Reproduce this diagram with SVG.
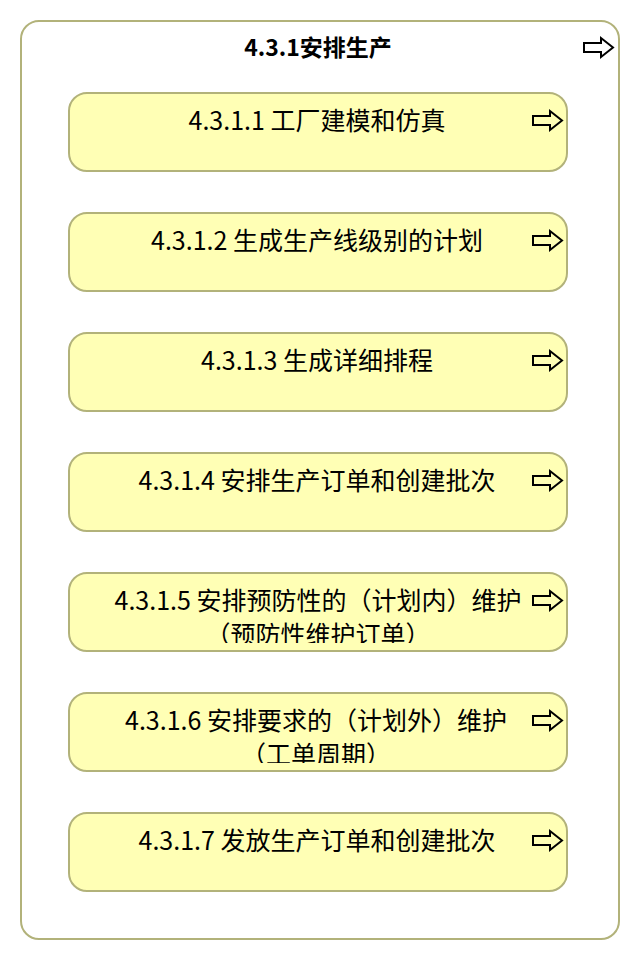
<svg xmlns="http://www.w3.org/2000/svg" width="640" height="960" viewBox="0 0 640 960">
<style>
.outer{fill:#ffffff;stroke:#b2b27a;stroke-width:2}
.node{fill:#ffffb5;stroke:#b2b27a;stroke-width:2}
.lbl{font-family:"Noto Sans CJK SC","Noto Sans",sans-serif;font-size:25px;fill:#000;text-anchor:middle}
.title{font-family:"Noto Sans CJK SC","Noto Sans",sans-serif;font-size:23px;font-weight:bold;fill:#000;text-anchor:middle}
.arr{fill:none;stroke:#000;stroke-width:2;stroke-linejoin:miter}
</style>
<defs>
<path id="arrow" class="arr" d="M0,5 H17 V0 L29,9.5 L17,19 V14 H0 Z"/>
<clipPath id="c5"><rect x="69" y="573" width="498" height="70"/></clipPath>
<clipPath id="c6"><rect x="69" y="693" width="498" height="70"/></clipPath>
</defs>
<g id="group-4-3-1">
<rect class="outer" x="21" y="21" width="598" height="918" rx="18"/>
<text class="title" x="318" y="56">4.3.1安排生产</text>
<use href="#arrow" x="584" y="38"/>
</g>
<g id="connectors"></g>
<g id="n1">
<rect class="node" x="69" y="93" width="498" height="78" rx="18"/>
<text class="lbl" x="317" y="130">4.3.1.1 工厂建模和仿真</text>
<use href="#arrow" x="533" y="111"/>
</g>
<g id="n2">
<rect class="node" x="69" y="213" width="498" height="78" rx="18"/>
<text class="lbl" x="317" y="250">4.3.1.2 生成生产线级别的计划</text>
<use href="#arrow" x="533" y="231"/>
</g>
<g id="n3">
<rect class="node" x="69" y="333" width="498" height="78" rx="18"/>
<text class="lbl" x="317" y="370">4.3.1.3 生成详细排程</text>
<use href="#arrow" x="533" y="351"/>
</g>
<g id="n4">
<rect class="node" x="69" y="453" width="498" height="78" rx="18"/>
<text class="lbl" x="317" y="490">4.3.1.4 安排生产订单和创建批次</text>
<use href="#arrow" x="533" y="471"/>
</g>
<g id="n5">
<rect class="node" x="69" y="573" width="498" height="78" rx="18"/>
<g clip-path="url(#c5)">
<text class="lbl" x="318" y="610">4.3.1.5 安排预防性的（计划内）维护</text>
<text class="lbl" x="318" y="644">（预防性维护订单）</text>
</g>
<use href="#arrow" x="533" y="591"/>
</g>
<g id="n6">
<rect class="node" x="69" y="693" width="498" height="78" rx="18"/>
<g clip-path="url(#c6)">
<text class="lbl" x="316" y="730">4.3.1.6 安排要求的（计划外）维护</text>
<text class="lbl" x="316" y="764">（工单周期）</text>
</g>
<use href="#arrow" x="533" y="711"/>
</g>
<g id="n7">
<rect class="node" x="69" y="813" width="498" height="78" rx="18"/>
<text class="lbl" x="317" y="850">4.3.1.7 发放生产订单和创建批次</text>
<use href="#arrow" x="533" y="831"/>
</g>
</svg>
